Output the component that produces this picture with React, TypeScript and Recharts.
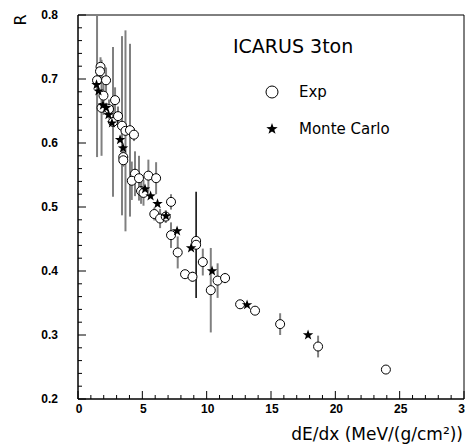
import { ScatterChart, Scatter, XAxis, YAxis, ErrorBar, ReferenceArea } from 'recharts';

// experimental points (open circles)
const expX = [1.48, 1.75, 1.71, 2.18, 1.98, 2.88, 1.83, 2.41, 2.72, 3.11, 3.42, 3.69, 4.04, 4.35, 3.52, 3.52, 4.43, 4.18, 4.74, 5.47, 6.07, 4.9, 5.09, 7.23, 5.93, 6.38, 6.82, 7.23, 7.75, 8.32, 8.9, 9.18, 9.18, 9.7, 10.32, 10.85, 11.43, 12.6, 13.76, 15.71, 18.66, 23.93];
const expR = [0.698, 0.719, 0.712, 0.698, 0.674, 0.667, 0.655, 0.653, 0.633, 0.642, 0.627, 0.619, 0.62, 0.613, 0.578, 0.573, 0.552, 0.541, 0.545, 0.549, 0.545, 0.525, 0.522, 0.508, 0.489, 0.482, 0.485, 0.456, 0.429, 0.395, 0.391, 0.447, 0.441, 0.414, 0.37, 0.385, 0.389, 0.348, 0.338, 0.317, 0.282, 0.246];
const expErr = [0.12, 0.015, 0.01, 0.02, 0.03, 0.02, 0.075, 0.015, 0.117, 0.015, 0.14, 0.157, 0.135, 0.01, 0.01, 0.01, 0.035, 0.03, 0.035, 0.025, 0.025, 0.02, 0.02, 0.012, 0.01, 0.015, 0.01, 0.02, 0.025, 0, 0.008, 0, 0.083, 0.021, 0.066, 0.027, 0.008, 0.006, 0, 0.017, 0.017, 0];
// points whose error bar is drawn in black
const expDark = [32];

// Monte Carlo (stars)
const mcX = [1.44, 1.59, 1.94, 2.18, 2.37, 2.64, 3.27, 3.5, 5.21, 5.64, 6.18, 6.84, 7.7, 8.79, 10.42, 13.14, 17.88];
const mcR = [0.691, 0.681, 0.659, 0.655, 0.644, 0.631, 0.605, 0.592, 0.528, 0.517, 0.505, 0.486, 0.4625, 0.436, 0.4, 0.347, 0.3];

const xMajor = [0, 5, 10, 15, 20, 25, 30];
const yMajor = [0.2, 0.3, 0.4, 0.5, 0.6, 0.7, 0.8];
const yMax = yMajor[yMajor.length - 1];

// error bars are cut at the frame, like the original plot
const expData = expX.map((x, i) => ({
  x,
  r: expR[i],
  err: [expErr[i], Math.min(expErr[i], +(yMax - expR[i]).toFixed(4))],
  dark: expDark.includes(i),
}));
const mcData = mcX.map((x, i) => ({ x, r: mcR[i] }));

// minor ticks: 5 per major interval
const xTicks: number[] = [];
xMajor.slice(0, -1).forEach((v, i) => {
  for (let k = 0; k < 5; k++) xTicks.push(v + ((xMajor[i + 1] - v) * k) / 5);
});
xTicks.push(xMajor[xMajor.length - 1]);
const yTicks: number[] = [];
yMajor.slice(0, -1).forEach((v, i) => {
  for (let k = 0; k < 5; k++) yTicks.push(+(v + ((yMajor[i + 1] - v) * k) / 5).toFixed(3));
});
yTicks.push(yMax);

const labelFont = "'Liberation Sans', Arial, sans-serif";
const textFont = "'DejaVu Sans', sans-serif";

const XTick = (props: any) => {
  const { x, y, payload } = props;
  const major = xMajor.includes(payload.value);
  return (
    <g>
      <line x1={x} x2={x} y1={y} y2={y - (major ? 8 : 4)} stroke="#000" />
      {major && (
        <text x={x + 1} y={y + 14} textAnchor="middle" fontSize={12} fontWeight="bold" fontFamily={labelFont} fill="#000">
          {payload.value}
        </text>
      )}
    </g>
  );
};

const YTick = (props: any) => {
  const { x, y, payload } = props;
  const major = yMajor.some((m) => Math.abs(m - payload.value) < 1e-6);
  return (
    <g>
      <line x1={x} x2={x + (major ? 8 : 4)} y1={y} y2={y} stroke="#000" />
      {major && (
        <text x={x - 20} y={y + 4} textAnchor="end" fontSize={12} fontWeight="bold" fontFamily={labelFont} fill="#000">
          {payload.value.toFixed(1)}
        </text>
      )}
    </g>
  );
};

const circleShape = (p: any) => <circle cx={p.cx} cy={p.cy} r={4.5} fill="#fff" stroke="#000" strokeWidth={1} />;

const starPath = (cx: number, cy: number, ro: number, ri: number) => {
  let d = '';
  for (let i = 0; i < 10; i++) {
    const a = -Math.PI / 2 + (i * Math.PI) / 5;
    const rr = i % 2 === 0 ? ro : ri;
    d += (i === 0 ? 'M' : 'L') + (cx + rr * Math.cos(a)).toFixed(2) + ',' + (cy + rr * Math.sin(a)).toFixed(2);
  }
  return d + 'Z';
};
const starShape = (p: any) => <path d={starPath(p.cx, p.cy, 5.5, 2.2)} fill="#000" />;

export default function App() {
  return (
    <div style={{ position: 'absolute', left: 0, top: 0, width: 465, height: 445, background: '#fff' }}>
      <ScatterChart width={465} height={445} margin={{ top: 15, right: 1, bottom: 45, left: 77 }}>
        <XAxis
          type="number"
          dataKey="x"
          domain={[0, 30]}
          ticks={xTicks}
          interval={0}
          height={1}
          tickSize={0}
          tickMargin={0}
          tickLine={false}
          tick={XTick}
          allowDataOverflow
          axisLine={{ stroke: '#000' }}
        />
        <YAxis
          type="number"
          dataKey="r"
          domain={[0.2, 0.8]}
          ticks={yTicks}
          interval={0}
          width={1}
          tickSize={0}
          tickMargin={0}
          tickLine={false}
          tick={YTick}
          allowDataOverflow
          axisLine={{ stroke: '#000' }}
        />
        <ReferenceArea x1={0} x2={30} y1={0.2} y2={0.8} fill="none" stroke="#000" strokeWidth={1} />
        <Scatter data={expData.filter((d) => !d.dark)} shape={circleShape} isAnimationActive={false}>
          <ErrorBar dataKey="err" direction="y" width={0} stroke="#808080" strokeWidth={2} />
        </Scatter>
        <Scatter data={expData.filter((d) => d.dark)} shape={circleShape} isAnimationActive={false}>
          <ErrorBar dataKey="err" direction="y" width={0} stroke="#000" strokeWidth={1.5} />
        </Scatter>
        <Scatter data={mcData} shape={starShape} isAnimationActive={false} />
      </ScatterChart>
      <svg width={465} height={445} style={{ position: 'absolute', left: 0, top: 0, pointerEvents: 'none' }}>
        <text x={233} y={53} fontSize={19} fontFamily={textFont} fill="#000">ICARUS 3ton</text>
        <circle cx={272} cy={92} r={6} fill="#fff" stroke="#000" />
        <text x={299} y={97} fontSize={15} fontFamily={textFont} fill="#000">Exp</text>
        <path d={starPath(272, 129, 6, 2.4)} fill="#000" />
        <text x={299} y={134} fontSize={15} fontFamily={textFont} fill="#000">Monte Carlo</text>
        <text x={463} y={440} textAnchor="end" fontSize={17} fontFamily={textFont} fill="#000">dE/dx (MeV/(g/cm²))</text>
        <text transform="translate(26,20) rotate(-90)" textAnchor="middle" fontSize={16} fontFamily={textFont} fill="#000">R</text>
      </svg>
    </div>
  );
}
